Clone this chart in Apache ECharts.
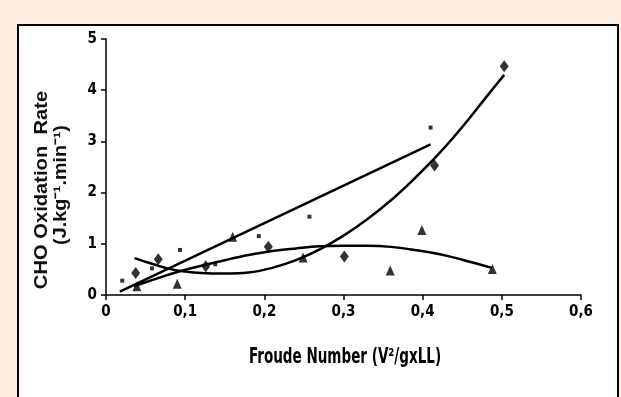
<!DOCTYPE html>
<html><head><meta charset="utf-8">
<script src="https://cdn.jsdelivr.net/npm/echarts@6/dist/echarts.min.js"></script>
<style>html,body{margin:0;padding:0;background:#fdede3;}#c{width:621px;height:397px;}</style>
</head><body><div id="c"></div>
<script>
// Diamond series
const diamondX = [0.0375, 0.066, 0.126, 0.205, 0.301, 0.415, 0.503];
const diamondY = [0.43, 0.70, 0.56, 0.94, 0.75, 2.53, 4.47];
// Triangle series
const triangleX = [0.039, 0.090, 0.160, 0.249, 0.359, 0.399, 0.488];
const triangleY = [0.17, 0.22, 1.14, 0.73, 0.48, 1.27, 0.51];
// Small square series
const squareX = [0.0205, 0.058, 0.0935, 0.138, 0.193, 0.257, 0.410];
const squareY = [0.28, 0.52, 0.88, 0.60, 1.15, 1.53, 3.27];
// Trend curves
const diamondFitX = [0.036, 0.06, 0.08, 0.10, 0.12, 0.15, 0.18, 0.21, 0.24, 0.27, 0.30, 0.33, 0.36, 0.39, 0.42, 0.45, 0.48, 0.503];
const diamondFitY = [0.72, 0.60, 0.51, 0.46, 0.43, 0.42, 0.44, 0.53, 0.68, 0.89, 1.16, 1.48, 1.85, 2.28, 2.75, 3.28, 3.86, 4.30];
const triangleFitX = [0.035, 0.06, 0.09, 0.12, 0.15, 0.18, 0.21, 0.24, 0.27, 0.30, 0.33, 0.36, 0.39, 0.42, 0.45, 0.4875];
const triangleFitY = [0.17, 0.30, 0.45, 0.57, 0.68, 0.78, 0.86, 0.91, 0.95, 0.96, 0.96, 0.94, 0.88, 0.80, 0.69, 0.53];
const squareFitX = [0.0175, 0.41];
const squareFitY = [0.065, 2.94];
// Axis ticks
const xTicks = [0, 0.1, 0.2, 0.3, 0.4, 0.5, 0.6];
const yTicks = [0, 1, 2, 3, 4, 5];

const zip = (a, b) => a.map((v, i) => [v, b[i]]);
const narrow = '"Liberation Sans Narrow", "Arial Narrow", "DejaVu Sans Condensed", sans-serif';
const sans = '"Liberation Sans", Arial, sans-serif';

const chart = echarts.init(document.getElementById('c'));
chart.setOption({
  backgroundColor: '#fdede3',
  animation: false,
  graphic: [
    { type: 'rect', z: -10, shape: { x: 18, y: 25, width: 600, height: 380 },
      style: { fill: '#ffffff', stroke: '#000', lineWidth: 2 } },
    { type: 'text', x: 42, y: 190, rotation: Math.PI / 2, scaleX: 1.12, z: 10,
      style: { text: 'CHO Oxidation  Rate', font: 'bold 18px ' + sans,
               fill: '#111', textAlign: 'center', textVerticalAlign: 'middle' } },
    { type: 'text', x: 61, y: 185, rotation: Math.PI / 2, scaleX: 1.1, z: 10,
      style: { text: '(J.kg\u207B\u00B9.min\u207B\u00B9)', font: 'bold 18px ' + sans,
               fill: '#111', textAlign: 'center', textVerticalAlign: 'middle' } },
    { type: 'text', x: 345, y: 358, scaleX: 0.94, scaleY: 1.3, z: 10,
      style: { text: 'Froude Number (V\u00B2/gxLL)', font: 'bold 16px ' + narrow,
               fill: '#000', textAlign: 'center', textVerticalAlign: 'middle' } }
  ],
  grid: { left: 106, right: 40, top: 39, bottom: 102 },
  xAxis: {
    type: 'value', min: xTicks[0], max: xTicks[xTicks.length - 1], interval: 0.1,
    axisLine: { onZero: false, lineStyle: { color: '#000', width: 1.5 } },
    axisTick: { show: true, length: 5, lineStyle: { color: '#000', width: 1.5 } },
    splitLine: { show: false },
    axisLabel: { color: '#000', fontFamily: narrow, fontWeight: 'bold', fontSize: 15, margin: 10,
                 formatter: v => String(Math.round(v * 10) / 10).replace('.', ',') }
  },
  yAxis: {
    type: 'value', min: yTicks[0], max: yTicks[yTicks.length - 1], interval: 1,
    axisLine: { show: true, lineStyle: { color: '#000', width: 1.5 } },
    axisTick: { show: true, length: 5, lineStyle: { color: '#000', width: 1.5 } },
    splitLine: { show: false },
    axisLabel: { color: '#000', fontFamily: narrow, fontWeight: 'bold', fontSize: 15, margin: 9 }
  },
  series: [
    { type: 'line', data: zip(squareFitX, squareFitY), showSymbol: false, lineStyle: { color: '#000', width: 2.5 } },
    { type: 'line', data: zip(diamondFitX, diamondFitY), smooth: 0.4, showSymbol: false, lineStyle: { color: '#000', width: 2.5 } },
    { type: 'line', data: zip(triangleFitX, triangleFitY), smooth: 0.4, showSymbol: false, lineStyle: { color: '#000', width: 2.5 } },
    { type: 'scatter', data: zip(diamondX, diamondY), symbol: 'diamond', symbolSize: [9, 12], itemStyle: { color: '#000' } },
    { type: 'scatter', data: zip(triangleX, triangleY), symbol: 'triangle', symbolSize: [9, 10], itemStyle: { color: '#000' } },
    { type: 'scatter', data: zip(squareX, squareY), symbol: 'rect', symbolSize: 4, itemStyle: { color: '#000' } }
  ]
});
</script></body></html>
